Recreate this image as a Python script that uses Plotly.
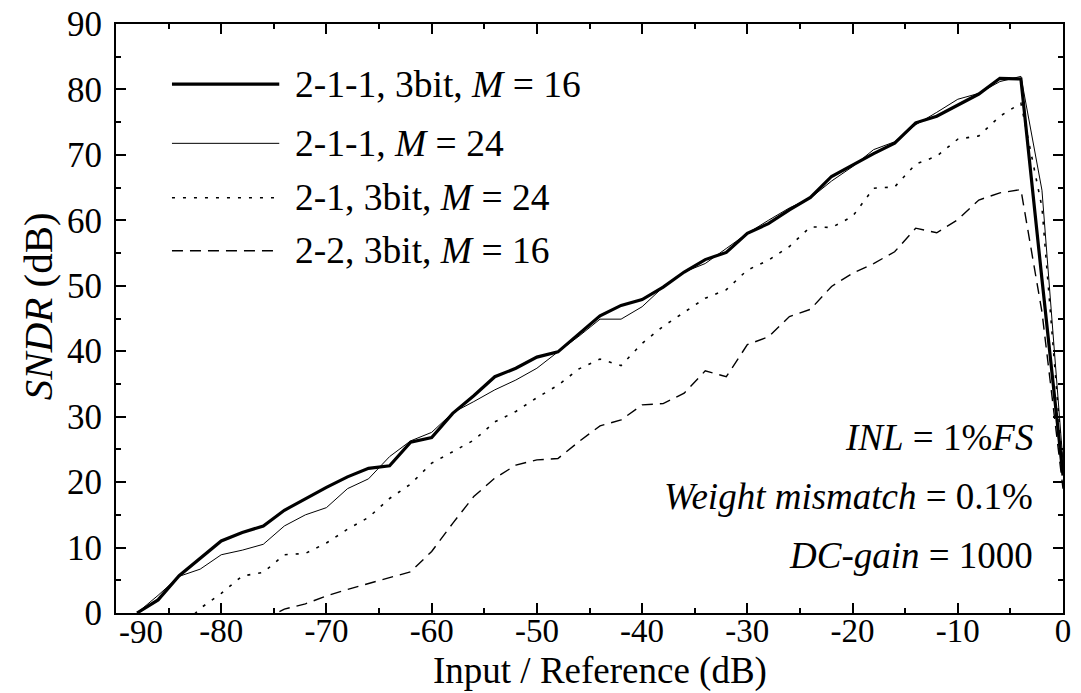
import plotly.graph_objects as go

# ---------------- data ----------------
x_s1 = [-88, -86, -84, -82, -80, -78, -76, -74, -72, -70, -68, -66, -64, -62, -60, -58, -56, -54, -52, -50,
        -48, -46, -44, -42, -40, -38, -36, -34, -32, -30, -28, -26, -24, -22, -20, -18, -16, -14, -12, -10,
        -8, -6, -4, -2, 0]
y_s1 = [0, 2.0, 5.7, 8.4, 11.0, 12.3, 13.3, 15.7, 17.5, 19.2, 20.8, 22.1, 22.5, 26.1, 26.8, 30.5, 33.2, 36.1, 37.4, 39.1,
        39.9, 42.6, 45.4, 47.0, 47.9, 49.8, 52.1, 54.0, 55.1, 58.0, 59.5, 61.6, 63.5, 66.7, 68.5, 70.2, 71.8, 74.9, 75.9, 77.6,
        79.3, 81.7, 81.6, 51.0, 21.0]

x_s2 = [-88, -86, -84, -82, -80, -78, -76, -74, -72, -70, -68, -66, -64, -62, -60, -58, -56, -54, -52, -50,
        -48, -46, -44, -42, -40, -38, -36, -34, -32, -30, -28, -26, -24, -22, -20, -18, -16, -14, -12, -10,
        -8, -6, -4, -2, 0]
y_s2 = [0, 2.7, 5.6, 6.7, 8.9, 9.6, 10.5, 13.3, 15.0, 16.1, 19.0, 20.5, 23.9, 26.3, 27.6, 30.6, 32.3, 34.1, 35.6, 37.4,
        39.9, 42.3, 44.9, 44.9, 46.8, 49.8, 52.1, 53.4, 55.7, 58.0, 60.0, 61.9, 63.4, 66.0, 68.2, 70.8, 72.0, 74.6, 76.5, 78.5,
        79.4, 81.2, 82.0, 64.6, 23.0]

x_s3 = [-84, -82, -80, -78, -76, -74, -72, -70, -68, -66, -64, -62, -60, -58, -56, -54, -52, -50,
        -48, -46, -44, -42, -40, -38, -36, -34, -32, -30, -28, -26, -24, -22, -20, -18, -16, -14, -12, -10,
        -8, -6, -4, -2, 0]
y_s3 = [-2.5, 0.7, 3.0, 5.65, 6.2, 8.9, 9.1, 10.7, 12.8, 14.6, 17.5, 19.7, 22.9, 24.7, 26.4, 29.2, 30.8, 32.9,
        34.8, 37.3, 38.8, 37.8, 41.2, 43.8, 46.0, 48.1, 49.4, 52.4, 53.9, 56.0, 59.0, 58.9, 60.6, 64.9, 65.1, 68.6, 69.8, 72.4,
        72.9, 75.9, 77.9, 62.0, 22.0]

x_s4 = [-76, -74, -72, -70, -68, -66, -64, -62, -60, -58, -56, -54, -52, -50,
        -48, -46, -44, -42, -40, -38, -36, -34, -32, -30, -28, -26, -24, -22, -20, -18, -16, -14, -12, -10,
        -8, -6, -4, -2, 0]
y_s4 = [-1.0, 0.6, 1.4, 2.6, 3.6, 4.5, 5.3, 6.3, 9.4, 13.7, 17.8, 20.6, 22.6, 23.4,
        23.6, 26.2, 28.6, 29.5, 31.8, 32.0, 33.6, 37.0, 36.1, 41.0, 42.2, 45.3, 46.4, 49.9, 51.9, 53.4, 55.2, 58.8, 58.1, 60.1,
        63.1, 64.2, 64.7, 46.0, 19.0]

series_names = ["2-1-1, 3bit, <i>M</i> = 16", "2-1-1, <i>M</i> = 24",
                "2-1, 3bit, <i>M</i> = 24", "2-2, 3bit, <i>M</i> = 16"]

x_ticks = [-90, -80, -70, -60, -50, -40, -30, -20, -10, 0]
x_ticktext = ["", "-80", "-70", "-60", "-50", "-40", "-30", "-20", "-10", "0"]
y_ticks = [0, 10, 20, 30, 40, 50, 60, 70, 80, 90]
y_ticktext = ["0", "10", "20", "30", "40", "50", "60", "70", "80", "90"]

notes = ["<i>INL</i> = 1%<i>FS</i>", "<i>Weight mismatch</i> = 0.1%", "<i>DC-gain</i> = 1000"]

# ---------------- styles ----------------
FONT = "Liberation Serif, Times New Roman, Times, DejaVu Serif, serif"
XTICK_SIZE = 33
YTICK_SIZE = 35
styles = [dict(width=3.2, dash="solid"),
          dict(width=1.0, dash="solid"),
          dict(width=1.6, dash="3px,8px"),
          dict(width=1.4, dash="11px,7px")]

fig = go.Figure()
for xs, ys, nm, st in zip([x_s1, x_s2, x_s3, x_s4], [y_s1, y_s2, y_s3, y_s4], series_names, styles):
    fig.add_trace(go.Scatter(x=xs, y=ys, mode="lines", name=nm,
                             line=dict(color="black", width=st["width"], dash=st["dash"]),
                             showlegend=False))

axis_common = dict(showline=True, linecolor="black", linewidth=2, mirror="allticks",
                   ticks="inside", ticklen=10, tickwidth=2, tickcolor="black",
                   showgrid=False, zeroline=False, automargin=False)
minor_ticks = dict(dtick=5, tick0=0, ticks="inside", ticklen=5, tickwidth=2, tickcolor="black")

fig.update_xaxes(range=[-90, 0], tickmode="array", tickvals=x_ticks, ticktext=x_ticktext,
                 ticklabelstandoff=-13, tickfont=dict(family=FONT, size=XTICK_SIZE, color="black"),
                 minor=minor_ticks, **axis_common)
fig.update_yaxes(range=[0, 90], tickmode="array", tickvals=y_ticks, ticktext=y_ticktext,
                 ticklabelstandoff=5, tickfont=dict(family=FONT, size=YTICK_SIZE, color="black"),
                 minor=minor_ticks, **axis_common)

annotations = []
# first x tick label, shifted right to clear the y-axis "0"
annotations.append(dict(x=-90, y=0, xref="x", yref="paper", text="-90", showarrow=False,
                        xanchor="center", yanchor="middle", xshift=25, yshift=-19,
                        font=dict(family=FONT, size=XTICK_SIZE, color="black")))
# axis titles
annotations.append(dict(x=0.511, y=0, xref="paper", yref="paper", text="Input / Reference (dB)",
                        showarrow=False, xanchor="center", yanchor="middle", yshift=-58,
                        font=dict(family=FONT, size=37, color="black")))
annotations.append(dict(x=0, y=0.521, xref="paper", yref="paper", text="<i>SNDR</i> (dB)",
                        showarrow=False, xanchor="center", yanchor="middle", xshift=-78, textangle=-90,
                        font=dict(family=FONT, size=41, color="black")))
# legend (manual)
leg_y = [0.898, 0.7974, 0.7051, 0.6151]
shapes = []
for nm, st, yy in zip(series_names, styles, leg_y):
    shapes.append(dict(type="line", xref="paper", yref="paper", x0=0.0591, x1=0.1724, y0=yy, y1=yy,
                       line=dict(color="black", width=st["width"], dash=st["dash"])))
    annotations.append(dict(x=0.1872, y=yy, xref="paper", yref="paper", text=nm, showarrow=False,
                            xanchor="left", yanchor="middle",
                            font=dict(family=FONT, size=37.5, color="black")))
# notes
for txt, yy in zip(notes, [0.2988, 0.197, 0.0968]):
    annotations.append(dict(x=0.9705, y=yy, xref="paper", yref="paper", text=txt, showarrow=False,
                            xanchor="right", yanchor="middle",
                            font=dict(family=FONT, size=37, color="black")))

fig.update_layout(width=1081, height=693, margin=dict(l=116, r=18, t=24, b=80, autoexpand=False),
                  paper_bgcolor="white", plot_bgcolor="white",
                  annotations=annotations, shapes=shapes,
                  font=dict(family=FONT, color="black"))

fig.write_html("out.html", config={"displayModeBar": False},
               post_script="document.body.style.margin='0px';")
